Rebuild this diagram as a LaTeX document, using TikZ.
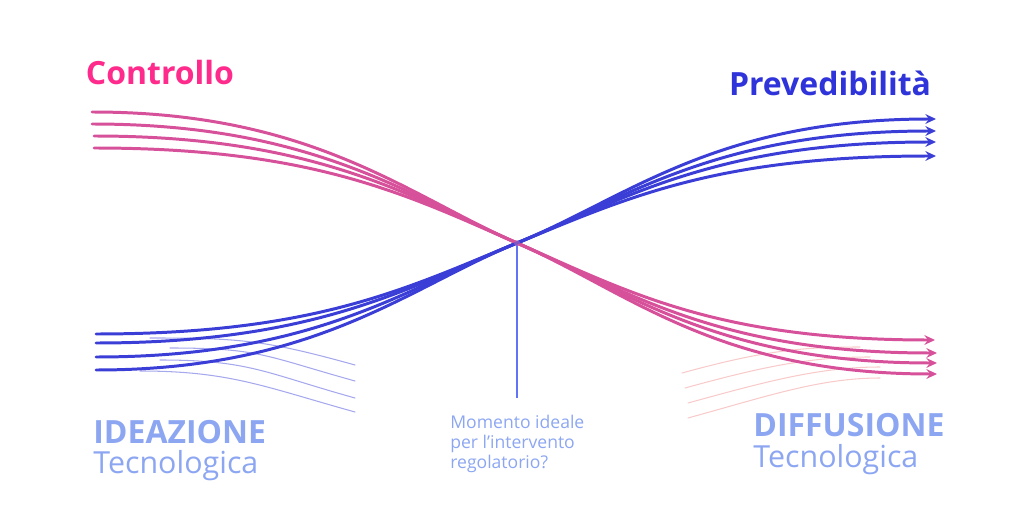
\documentclass[tikz,border=0pt]{standalone}
\usepackage{fontspec}
\setmainfont{Open Sans}
\usetikzlibrary{arrows.meta}

\definecolor{pinkline}{HTML}{D6519A}
\definecolor{pinktext}{HTML}{FF2B8C}
\definecolor{blueline}{HTML}{3A3ED6}
\definecolor{bluetext}{HTML}{2F33DA}
\definecolor{paleblue}{HTML}{8CA6F2}
\definecolor{salmon}{HTML}{F08A8A}

\begin{document}
\begin{tikzpicture}[x=0.02cm, y=-0.02cm,
    title/.style={font=\bfseries\fontsize{18.2}{22}\selectfont, inner sep=0pt},
    phase/.style={anchor=west, text=paleblue, inner sep=0pt},
    flow/.style={line width=1.7pt, line cap=round},
    arrowtip/.style={-{Stealth[length=6pt, width=5.5pt]}},
    ghost/.style={line width=0.6pt, line cap=round, opacity=0.45}
]
    \useasboundingbox (0,0) rectangle (1024,520);

    % labels of the two curves
    \node[title, text=pinktext] (ctrl) at (160,73)  {Controllo};
    \node[title, text=bluetext] (prev) at (830,83)  {Prevedibilità};

    % crossing point and the end points of each bundle
    \coordinate (x) at (517,243);
    \coordinate (pl1) at (92,112);  \coordinate (pr1) at (935,340);
    \coordinate (pl2) at (92,124);  \coordinate (pr2) at (937,353);
    \coordinate (pl3) at (94,136);  \coordinate (pr3) at (937,363);
    \coordinate (pl4) at (94,148);  \coordinate (pr4) at (937,374);
    \coordinate (bl1) at (96,334);  \coordinate (br1) at (936,119);
    \coordinate (bl2) at (96,343);  \coordinate (br2) at (936,131);
    \coordinate (bl3) at (96,357);  \coordinate (br3) at (936,142);
    \coordinate (bl4) at (96,370);  \coordinate (br4) at (936,156);

    % faint side strands
    \coordinate (gb1) at (150,338); \coordinate (ge1) at (355,365);
    \coordinate (gb2) at (170,348); \coordinate (ge2) at (355,381);
    \coordinate (gb3) at (160,360); \coordinate (ge3) at (355,398);
    \coordinate (gb4) at (140,371); \coordinate (ge4) at (355,412);
    \coordinate (gs1) at (682,373); \coordinate (gt1) at (860,347);
    \coordinate (gs2) at (685,388); \coordinate (gt2) at (870,357);
    \coordinate (gs3) at (688,403); \coordinate (gt3) at (880,367);
    \coordinate (gs4) at (688,418); \coordinate (gt4) at (880,378);

    \foreach \i in {1,...,4} {
        \draw[ghost, blueline] (gb\i) .. controls +(90,0) and +(-90,-25) .. (ge\i);
        \draw[ghost, salmon] (gs\i) .. controls +(80,-22) and +(-60,0) .. (gt\i);
    }

    % vertical marker
    \coordinate (foot) at (517,398);
    \draw[line width=0.7pt, color=paleblue!70!blue] (x) -- (foot);

    % the two bundles
    \foreach \i in {1,...,4} {
        \draw[flow, arrowtip, pinkline]
            (pl\i) .. controls +(220,0) and +(-110,-48) .. (x)
                   .. controls +(110,48) and +(-220,0) .. (pr\i);
        \draw[flow, arrowtip, blueline]
            (bl\i) .. controls +(220,0) and +(-110,45) .. (x)
                   .. controls +(110,-45) and +(-220,0) .. (br\i);
    }
    \fill[violet!60, opacity=0.6] (x) circle (3);

    % phase labels
    \node[phase, font=\bfseries\fontsize{18.2}{22}\selectfont] (idea) at (93,432) {IDEAZIONE};
    \node[phase, font=\fontsize{17.3}{22}\selectfont] (ideat) at (93,466) {Tecnologica};
    \node[phase, font=\bfseries\fontsize{18.2}{22}\selectfont] (diff) at (753,425) {DIFFUSIONE};
    \node[phase, font=\fontsize{17.3}{22}\selectfont] (difft) at (753,460) {Tecnologica};
    \node[phase, align=left, font=\fontsize{10}{11.3}\selectfont] (moment) at (450,444)
        {Momento ideale\\per l'intervento\\regolatorio?};
\end{tikzpicture}
\end{document}
